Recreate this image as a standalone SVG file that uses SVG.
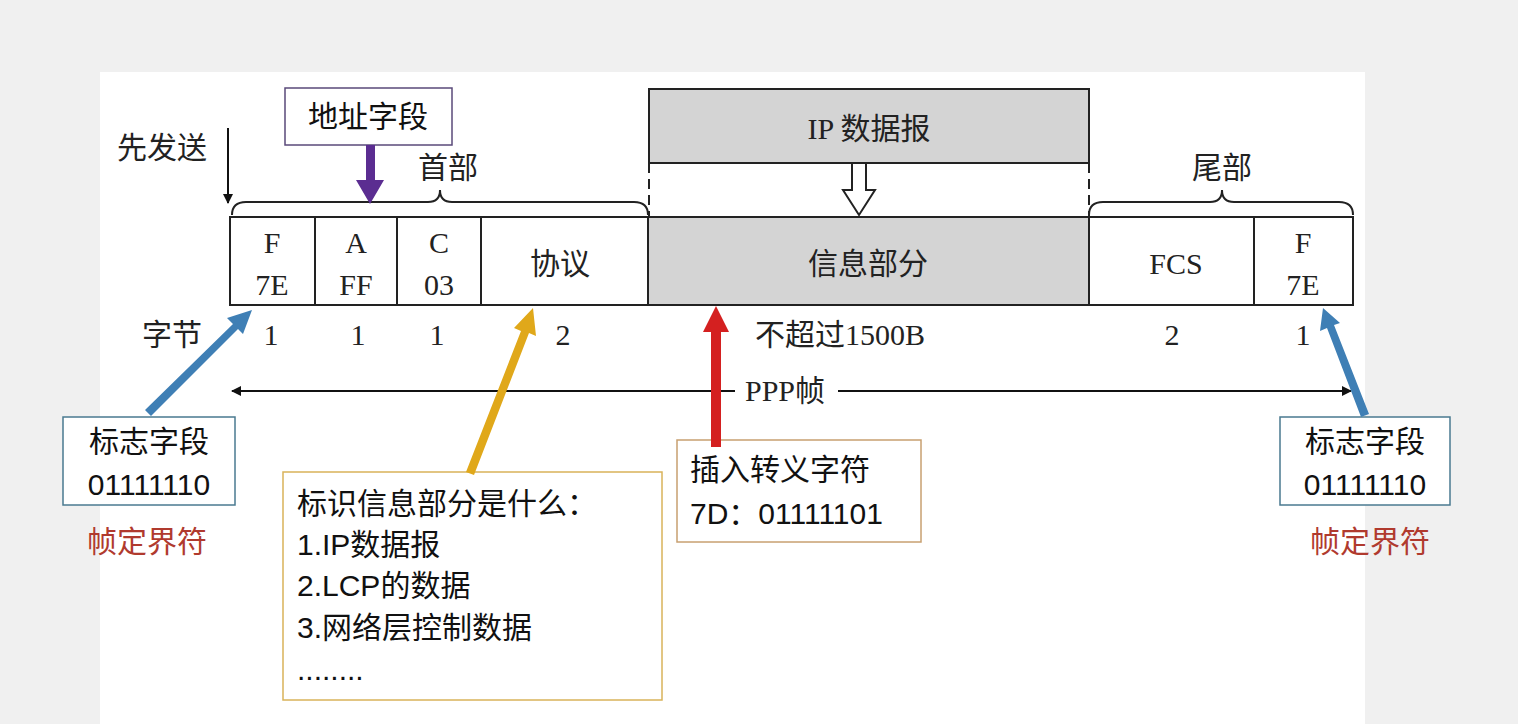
<svg xmlns="http://www.w3.org/2000/svg" width="1518" height="724" viewBox="0 0 1518 724">
<defs>
<style>
.s{font-family:"Liberation Serif","Noto Sans CJK SC",serif;font-size:30px;fill:#222;text-anchor:middle}
.a{font-family:"Liberation Sans","Noto Sans CJK SC",sans-serif;font-size:30px;fill:#111}
.r{fill:#b03a2e}
.cell{fill:#fff;stroke:#222;stroke-width:2}
.g{fill:#d4d4d4;stroke:#222;stroke-width:2}
.br{fill:none;stroke:#222;stroke-width:2}
</style>
<marker id="ab" viewBox="0 0 10 10" refX="9" refY="5" markerWidth="14" markerHeight="10" markerUnits="userSpaceOnUse" orient="auto"><path d="M0,0L10,5L0,10z" fill="#111"/></marker>
</defs>
<rect width="1518" height="724" fill="#f0f0f0"/>
<rect x="100" y="72" width="1265" height="652" fill="#fff"/>
<g id="ip"><rect class="g" x="649" y="89" width="440" height="74"/><text class="s" x="869" y="139">IP 数据报</text></g>
<g id="frame">
<rect class="cell" x="230" y="217" width="85" height="88"/><text class="s" x="272" y="253">F</text><text class="s" x="272" y="295">7E</text>
<rect class="cell" x="315" y="217" width="82" height="88"/><text class="s" x="356" y="253">A</text><text class="s" x="356" y="295">FF</text>
<rect class="cell" x="397" y="217" width="84" height="88"/><text class="s" x="439" y="253">C</text><text class="s" x="439" y="295">03</text>
<rect class="cell" x="481" y="217" width="167" height="88"/><text class="s" x="560" y="274">协议</text>
<rect class="g" x="648" y="217" width="441" height="88"/><text class="s" x="868" y="274">信息部分</text>
<rect class="cell" x="1089" y="217" width="165" height="88"/><text class="s" x="1176" y="274">FCS</text>
<rect class="cell" x="1254" y="217" width="99" height="88"/><text class="s" x="1303" y="253">F</text><text class="s" x="1303" y="295">7E</text>
</g>
<g id="labels">
<text class="s" x="162" y="158">先发送</text>
<text class="s" x="448" y="178">首部</text>
<text class="s" x="1222" y="178">尾部</text>
<text class="s" x="172" y="345">字节</text>
<text class="s" x="271" y="345">1</text><text class="s" x="358" y="345">1</text><text class="s" x="437" y="345">1</text><text class="s" x="563" y="345">2</text>
<text class="s" x="840" y="345">不超过1500B</text>
<text class="s" x="1172" y="345">2</text><text class="s" x="1303" y="345">1</text>
<text class="s" x="785" y="401">PPP帧</text>
</g>
<g id="addr"><rect x="285" y="88" width="167" height="57" fill="#fff" stroke="#5a4a7a" stroke-width="1.5"/><text class="a" x="368" y="127" text-anchor="middle">地址字段</text></g>
<g id="flagL"><rect x="63" y="417" width="172" height="88" fill="#fff" stroke="#4a7a90" stroke-width="1.5"/><text class="a" x="149" y="452" text-anchor="middle">标志字段</text><text class="a" x="149" y="495" text-anchor="middle">01111110</text><text class="a r" x="147" y="552" text-anchor="middle">帧定界符</text></g>
<g id="flagR"><rect x="1280" y="417" width="170" height="88" fill="#fff" stroke="#4a7a90" stroke-width="1.5"/><text class="a" x="1365" y="452" text-anchor="middle">标志字段</text><text class="a" x="1365" y="495" text-anchor="middle">01111110</text><text class="a r" x="1370" y="552" text-anchor="middle">帧定界符</text></g>
<g id="proto"><rect x="283" y="472" width="379" height="228" fill="#fff" stroke="#d9b35a" stroke-width="1.5"/>
<text class="a" x="297" y="514">标识信息部分是什么：</text><text class="a" x="297" y="555">1.IP数据报</text><text class="a" x="297" y="596">2.LCP的数据</text><text class="a" x="297" y="638">3.网络层控制数据</text><text class="a" x="297" y="680">........</text></g>
<g id="esc"><rect x="677" y="440" width="244" height="102" fill="#fff" stroke="#c8a070" stroke-width="1.5"/><text class="a" x="690" y="480">插入转义字符</text><text class="a" x="690" y="524">7D：01111101</text></g>
<g id="connectors">
<path class="br" d="M232,215 Q232,202 246,202 L428,202 Q440,202 440,190 Q440,202 452,202 L634,202 Q648,202 648,215"/>
<path class="br" d="M1089,215 Q1089,202 1103,202 L1210,202 Q1222,202 1222,190 Q1222,202 1234,202 L1339,202 Q1353,202 1353,215"/>
<line x1="649" y1="163" x2="649" y2="217" stroke="#222" stroke-width="2" stroke-dasharray="10,6"/>
<line x1="1089" y1="163" x2="1089" y2="217" stroke="#222" stroke-width="2" stroke-dasharray="10,6"/>
<path d="M852,163 H866 V190 H875 L859,215 L843,190 H852 Z" fill="#fff" stroke="#222" stroke-width="2"/>
<line x1="228" y1="128" x2="228" y2="203" stroke="#111" stroke-width="2" marker-end="url(#ab)"/>
<line x1="735" y1="391" x2="232" y2="391" stroke="#111" stroke-width="2" marker-end="url(#ab)"/>
<line x1="838" y1="391" x2="1351" y2="391" stroke="#111" stroke-width="2" marker-end="url(#ab)"/>
<path d="M366,145 H375 V180 H384 L370,204 L356,180 H366 Z" fill="#5b2d91"/>
<path d="M145,410 L233,324 L227,318 L252,310 L243,334 L238,329 L151,416 Z" fill="#3f7fb5"/>
<path d="M1361,417 L1327,328 L1320,331 L1323,308 L1340,323 L1334,325 L1369,414 Z" fill="#3f7fb5"/>
<path d="M466,472 L521,331 L514,328 L533,308 L536,336 L529,333 L474,475 Z" fill="#e0a81a"/>
<path d="M711,447 V332 H703 L716,306 L729,332 H721 V447 Z" fill="#d42020"/>
</g>
</svg>
